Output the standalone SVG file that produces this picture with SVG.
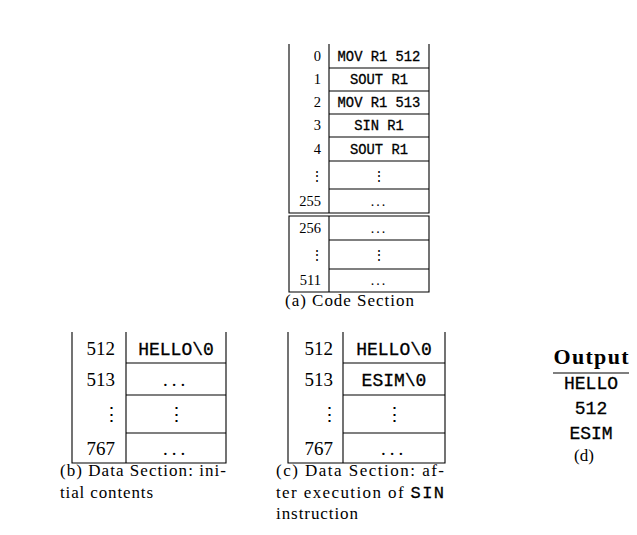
<svg xmlns="http://www.w3.org/2000/svg" width="637" height="535" viewBox="0 0 637 535">
<style>
  .ln { stroke: #000; stroke-width: 1.1; fill: none; }
  .num { font-family: "Liberation Serif", "DejaVu Serif", serif; fill: #000; text-anchor: end; }
  .code { font-family: "Liberation Mono", "DejaVu Sans Mono", monospace; fill: #000; text-anchor: middle; stroke: #000; stroke-width: 0.3; }
  .dots { font-family: "DejaVu Serif", serif; fill: #000; text-anchor: middle; }
  .cap { font-family: "Liberation Serif", "DejaVu Serif", serif; fill: #000; font-size: 17px; }
  .tt { font-family: "Liberation Mono", "DejaVu Sans Mono", monospace; stroke: #000; stroke-width: 0.3; }
  .c13 { font-size: 13.8px; }
  .c17 { font-size: 18px; }
  .n12 { font-size: 14.5px; }
  .n17 { font-size: 19px; }
</style>
<rect width="637" height="535" fill="#fff"/>

<g id="code-section">
  <path class="ln" d="M289,44 V213 H429 V44 M329,44 V213 M329,68 H429 M329,91 H429 M329,114 H429 M329,137 H429 M329,161 H429 M329,189 H429"/>
  <path class="ln" d="M289,216 H429 V292 H289 Z M329,216 V292 M329,240 H429 M329,269 H429"/>
  <g class="num n12">
    <text x="321" y="61">0</text>
    <text x="321" y="84">1</text>
    <text x="321" y="107">2</text>
    <text x="321" y="130">3</text>
    <text x="321" y="154">4</text>
    <text x="321" y="206">255</text>
    <text x="321" y="233">256</text>
    <text x="321" y="285">511</text>
  </g>
  <g class="code c13">
    <text x="379" y="61">MOV R1 512</text>
    <text x="379" y="84">SOUT R1</text>
    <text x="379" y="107">MOV R1 513</text>
    <text x="379" y="130">SIN R1</text>
    <text x="379" y="154">SOUT R1</text>
  </g>
  <g class="dots" font-size="14">
    <text x="317" y="181">⋮</text>
    <text x="379" y="181">⋮</text>
    <text x="317" y="260">⋮</text>
    <text x="379" y="260">⋮</text>
    <text x="379" y="206" font-family="Liberation Serif" letter-spacing="2">...</text>
    <text x="379" y="233" font-family="Liberation Serif" letter-spacing="2">...</text>
    <text x="379" y="285" font-family="Liberation Serif" letter-spacing="2">...</text>
  </g>
  <text class="cap" x="285" y="306" textLength="129" lengthAdjust="spacing">(a) Code Section</text>
</g>

<g id="data-initial">
  <path class="ln" d="M72,332 V463 H226 V332 M126,332 V463 M126,363 H226 M126,395 H226 M126,433 H226"/>
  <g class="num n17">
    <text x="115" y="355">512</text>
    <text x="115" y="386">513</text>
    <text x="115" y="455">767</text>
  </g>
  <text class="code c17" x="176" y="355">HELLO\0</text>
  <g class="dots" font-size="19">
    <text x="111" y="421">⋮</text>
    <text x="176" y="421">⋮</text>
    <text x="176" y="386" font-family="Liberation Serif" letter-spacing="4">...</text>
    <text x="176" y="455" font-family="Liberation Serif" letter-spacing="4">...</text>
  </g>
  <text class="cap" x="60" y="476" textLength="166" lengthAdjust="spacing">(b) Data Section: ini-</text>
  <text class="cap" x="60" y="498" textLength="93" lengthAdjust="spacing">tial contents</text>
</g>

<g id="data-after">
  <path class="ln" d="M288,332 V463 H445 V332 M343,332 V463 M343,363 H445 M343,395 H445 M343,433 H445"/>
  <g class="num n17">
    <text x="333" y="355">512</text>
    <text x="333" y="386">513</text>
    <text x="333" y="455">767</text>
  </g>
  <text class="code c17" x="394" y="355">HELLO\0</text>
  <text class="code c17" x="394" y="386">ESIM\0</text>
  <g class="dots" font-size="19">
    <text x="329" y="421">⋮</text>
    <text x="394" y="421">⋮</text>
    <text x="394" y="455" font-family="Liberation Serif" letter-spacing="4">...</text>
  </g>
  <text class="cap" x="276" y="476" textLength="168" lengthAdjust="spacing">(c) Data Section: af-</text>
  <text class="cap" x="276" y="498" textLength="168" lengthAdjust="spacing">ter execution of <tspan class="tt">SIN</tspan></text>
  <text class="cap" x="276" y="519" textLength="82" lengthAdjust="spacing">instruction</text>
</g>

<g id="output">
  <text x="591" y="364" font-family="Liberation Serif, serif" font-weight="bold" font-size="22" text-anchor="middle" textLength="75" lengthAdjust="spacing">Output</text>
  <line class="ln" x1="553" y1="373" x2="629" y2="373"/>
  <g class="code c17">
    <text x="591" y="389">HELLO</text>
    <text x="591" y="414">512</text>
    <text x="591" y="439">ESIM</text>
  </g>
  <text x="584" y="461" font-family="Liberation Serif, serif" font-size="17" text-anchor="middle">(d)</text>
</g>
</svg>
